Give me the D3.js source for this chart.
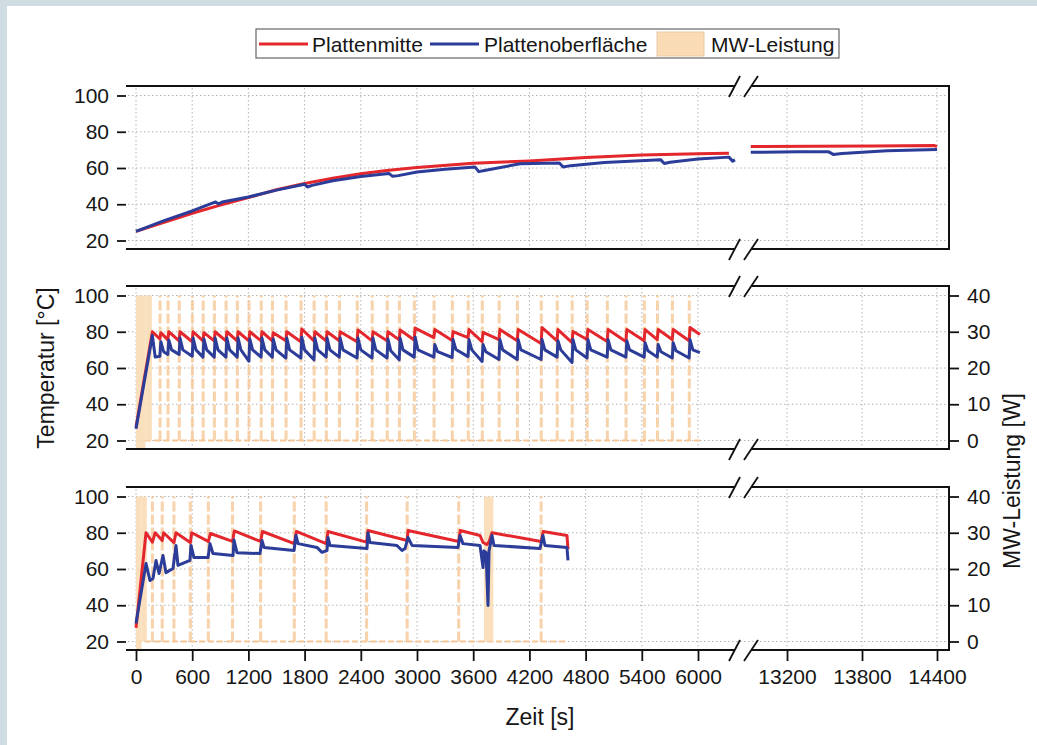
<!DOCTYPE html>
<html>
<head>
<meta charset="utf-8">
<script src="https://cdn.jsdelivr.net/npm/d3@7/dist/d3.min.js"></script>
<style>
body { margin: 0; background: #fff; }
text { font-family: "Liberation Sans", Arial, sans-serif; fill: #161616; }
</style>
</head>
<body>
<div id="chart"></div>
<script>
// ---- data ----
var tempTicks = [20, 40, 60, 80, 100];
var powerTicks = [0, 10, 20, 30, 40];
var timeTicksL = [0, 600, 1200, 1800, 2400, 3000, 3600, 4200, 4800, 5400, 6000];
var timeTicksR = [13200, 13800, 14400];

// panel 1: continuous run
var p1RedL = [[0,25],[300,30],[600,35],[900,39.5],[1200,43.7],[1500,48],[1800,51.5],[2100,54.3],[2400,56.8],
  [2700,58.8],[3000,60.3],[3600,62.6],[4200,63.9],[4800,65.8],[5400,67.2],[6000,67.9],[6330,68.2]];
var p1RedR = [[12910,71.9],[13400,72],[13900,72.2],[14380,72.4],[14400,71.8]];
var p1BlueL = [[0,25],[300,31],[600,36.3],[850,41.3],[880,40.2],[920,41.2],[1200,44],[1500,47.8],[1800,51],
  [1830,49.5],[1880,50.4],[2100,53],[2400,55.3],[2700,57],[2740,55.4],[2800,55.8],[3000,57.8],[3300,59.3],
  [3620,60.5],[3660,58],[3720,58.6],[4100,62.3],[4520,62.8],[4560,60.6],[4640,61.3],[5000,63],[5600,64.6],
  [5640,62.5],[5700,63.2],[6000,65],[6330,66],[6370,63.8],[6395,64.5]];
var p1BlueR = [[12910,68.7],[13300,68.9],[13530,69],[13570,67.5],[13640,68],[14000,69.5],[14400,70.2]];

// panel 2: regular pulses, one entry per heating cycle
var p2Peak = [175,265,350,470,610,725,845,970,1090,1215,1345,1465,1610,1770,1910,2040,2180,2370,2530,2690,
  2820,2980,3190,3385,3555,3705,3885,4080,4335,4505,4665,4825,5040,5240,5435,5575,5735,5915];
var p2End = 6020;
var p2RedHi = [80,79.5,80,80,80,79.5,80,80,80,80,80,79.5,80,81.5,80,80,80,81,80,80,81,82,
  81.2,80.1,81.2,79.6,81.2,81.2,82.3,81.2,80.1,81.2,81.2,81.2,81.2,81.2,81.2,82.3];
var p2RedLo = [76,75.5,75,74.5,75,75,75,75,75,75,75,75,74.5,75,75,75,74.5,75,75,75.5,75.5,
  76.8,75.2,76.8,74.6,75.7,75,73.5,75,74,75.7,74.6,74.6,75,75.7,75.7,75,78.5];
var p2BlueHi = [78,74.5,75.5,76.5,76.5,76,76.5,76.5,76.5,76,76.5,76,76.5,77,76.5,76.5,76.5,76.5,76.5,76,76.5,77,
  73,75.7,75.7,73,75.7,75.7,75.7,75,75.7,75.7,75.7,75,74,73,74,75.7];
var p2BlueMid = [66,69,70,70,70,70,70,70,70,70,70,70,70,70,70,70,70,70,70,69.5,70,70,
  69,70.2,70,69,70,70,70,70,70,70,70,70,69.5,69,69.5,70];
var p2BlueLo = [66.5,67.5,67.5,66.5,66,66,66,66,63.8,66,66,65.5,65.5,64.5,66,66,65.5,65.5,65.5,64.5,66,66,
  65.8,66.3,63.6,64.7,64.7,64.7,66,63,65.5,66,66,66,66,65.5,65.5,68.5];
var p2Start = [27.5, 26.5];
var p2Blocks = [[0,100,-2.4],[100,170,0]];

// panel 3: pulses only when needed
var p3Red = [[0,27.5],[107,80],[175,74.8],[205,80],[280,75.7],[295,80],[405,74.6],[427,80],[580,74.6],[595,80],
  [772,75.2],[795,79.6],[1030,75.2],[1050,81],[1330,75.2],[1350,80.7],[1690,74],[1712,80.7],[2030,74],[2050,80.7],
  [2462,74.8],[2477,81.2],[2895,75.7],[2904,81.2],[3445,75.2],[3462,81.2],[3673,78.5],[3705,74.6],[3745,73.5],
  [3770,75],[3801,80],[4325,75.2],[4348,80.7],[4601,78.5],[4612,71]];
var p3Blue = [[0,30],[107,63],[149,53.7],[181,54.8],[214,64.7],[246,57.5],[288,67.4],[320,58],[395,60.3],[427,73],
  [448,62],[576,64.7],[587,73],[619,66.3],[769,66.3],[790,74],[822,68.5],[1036,67.4],[1046,76],[1078,69],
  [1324,68.5],[1345,75.7],[1367,71.9],[1687,70.2],[1708,78.5],[1730,74],[1932,71.9],[1986,69.2],[2039,70.2],
  [2050,77.4],[2071,73],[2466,71.3],[2477,80],[2498,74.6],[2786,73],[2840,70.2],[2872,71.3],[2904,77.4],[2947,73],
  [3438,71.9],[3459,78.5],[3491,74],[3673,73],[3705,60.8],[3715,70],[3737,69],[3758,39.9],[3769,70],[3801,78.5],
  [3822,73],[4313,71.3],[4345,78.5],[4366,73],[4601,71.9],[4612,64.7]];
var p3Pulse = [175,280,405,580,772,1030,1330,1690,2030,2462,2895,3445,4325];
var p3Blocks = [[0,60,-2.4],[60,115,0],[3715,3815,0]];
var p3End = 4612;

var colRed = "#e3272c", colBlue = "#2b3c99", colPower = "#f6c795", colSwatch = "#f9dbb6";

// ---- layout ----
var width = 1037, height = 745;
var frameL = 126, frameR = 949, gapA = 735, gapB = 751;
var panelTops = [86, 286, 487], panelH = 163;

var svg = d3.select("#chart").append("svg")
    .attr("width", width)
    .attr("height", height);

svg.append("rect").attr("x", 0).attr("y", 0).attr("width", width).attr("height", 6).attr("fill", "#cfdce1");
svg.append("rect").attr("x", 0).attr("y", 0).attr("width", 7).attr("height", height).attr("fill", "#cfdce1");

var xLeft = d3.scaleLinear().domain([0, 6000]).range([136, 698]);
var xRight = d3.scaleLinear().domain([13200, 14400]).range([787, 937]);
function xPos(t) { return t < 10000 ? xLeft(t) : xRight(t); }

// build the cycle series of panel 2
var p2Red = [[0, p2Start[0]]], p2Blue = [[0, p2Start[1]]];
p2Peak.forEach(function(t, i) {
  var next = i < p2Peak.length - 1 ? p2Peak[i + 1] - 10 : p2End;
  p2Red.push([t, p2RedHi[i]], [next, p2RedLo[i]]);
  p2Blue.push([t, p2BlueHi[i]], [t + 30, p2BlueMid[i]], [next, p2BlueLo[i]]);
});
var p2Pulse = p2Peak.slice(1).map(function(t) { return t - 8; });

function drawPanel(idx, cfg) {
  var top = panelTops[idx], bottom = top + panelH;
  var y = d3.scaleLinear().domain([20, 100]).range([top + 154.5, top + 9.5]);
  var yW = d3.scaleLinear().domain([0, 40]).range([top + 154.5, top + 9.5]);
  var g = svg.append("g");

  /* grid */
  g.selectAll("line.hg").data(tempTicks).enter().append("line")
    .attr("class", "hg")
    .attr("x1", frameL + 2).attr("x2", frameR - 2)
    .attr("y1", function(d) { return y(d); }).attr("y2", function(d) { return y(d); });
  g.selectAll("line.vg").data(timeTicksL.concat(timeTicksR)).enter().append("line")
    .attr("class", "vg")
    .attr("x1", xPos).attr("x2", xPos)
    .attr("y1", top + 2).attr("y2", bottom - 2);
  g.selectAll("line.hg, line.vg")
    .attr("stroke", "#b4b4b4").attr("stroke-width", 1).attr("stroke-dasharray", "1.5,2.5");

  /* MW power */
  if (cfg.pulses) {
    g.append("line")
      .attr("x1", xPos(0)).attr("x2", xPos(cfg.end))
      .attr("y1", yW(0)).attr("y2", yW(0))
      .attr("stroke", colPower).attr("stroke-width", 2).attr("stroke-dasharray", "6,3");
    g.selectAll("rect.blk").data(cfg.blocks).enter().append("rect")
      .attr("class", "blk")
      .attr("x", function(d) { return xPos(d[0]); })
      .attr("width", function(d) { return xPos(d[1]) - xPos(d[0]); })
      .attr("y", yW(40))
      .attr("height", function(d) { return yW(d[2]) - yW(40); })
      .attr("fill", colSwatch).attr("opacity", 0.9);
    g.selectAll("line.pulse").data(cfg.pulses).enter().append("line")
      .attr("class", "pulse")
      .attr("x1", xPos).attr("x2", xPos)
      .attr("y1", yW(0)).attr("y2", yW(40))
      .attr("stroke", colPower).attr("stroke-width", 3)
      .attr("stroke-dasharray", "10,3").attr("opacity", 0.8);
  }

  /* temperature lines */
  var line = d3.line()
    .x(function(d) { return xPos(d[0]); })
    .y(function(d) { return y(d[1]); });
  cfg.series.forEach(function(s) {
    g.append("path").datum(s.data)
      .attr("d", line)
      .attr("fill", "none")
      .attr("stroke", s.color)
      .attr("stroke-width", 3)
      .attr("stroke-linejoin", "round");
  });

  /* frame with axis break */
  g.append("path")
    .attr("d", "M" + frameL + "," + top + "H" + gapA + "M" + gapB + "," + top + "H" + frameR +
               "V" + bottom + "H" + gapB + "M" + gapA + "," + bottom + "H" + frameL + "Z")
    .attr("fill", "none").attr("stroke", "#111").attr("stroke-width", 2);
  [top, bottom].forEach(function(yy) {
    [[729, 740], [744, 758]].forEach(function(s) {
      g.append("line")
        .attr("x1", s[0]).attr("y1", yy + 11).attr("x2", s[1]).attr("y2", yy - 10)
        .attr("stroke", "#111").attr("stroke-width", 1.8);
    });
  });

  /* axes */
  var ax = g.append("g")
    .attr("transform", "translate(" + frameL + ",0)")
    .call(d3.axisLeft(y).tickValues(tempTicks).tickSize(9).tickPadding(8));
  styleAxis(ax);

  if (cfg.rightAxis) {
    var ar = g.append("g")
      .attr("transform", "translate(" + frameR + ",0)")
      .call(d3.axisRight(yW).tickValues(powerTicks).tickSize(10).tickPadding(8));
    styleAxis(ar);
  }
  if (cfg.bottomAxis) {
    [[xLeft, timeTicksL], [xRight, timeTicksR]].forEach(function(p) {
      var ab = g.append("g")
        .attr("transform", "translate(0," + bottom + ")")
        .call(d3.axisBottom(p[0]).tickValues(p[1]).tickSize(11).tickPadding(8).tickFormat(d3.format("d")));
      styleAxis(ab);
    });
  }
}

function styleAxis(a) {
  a.select(".domain").remove();
  a.selectAll(".tick line").attr("stroke", "#111").attr("stroke-width", 1.8);
  a.selectAll(".tick text").attr("font-size", 21).attr("fill", "#161616")
    .style("font-family", "'Liberation Sans', Arial, sans-serif");
}

drawPanel(0, {
  series: [{data: p1RedL, color: colRed}, {data: p1RedR, color: colRed},
           {data: p1BlueL, color: colBlue}, {data: p1BlueR, color: colBlue}]
});
drawPanel(1, {
  series: [{data: p2Red, color: colRed}, {data: p2Blue, color: colBlue}],
  pulses: p2Pulse, blocks: p2Blocks, end: p2End, rightAxis: true
});
drawPanel(2, {
  series: [{data: p3Red, color: colRed}, {data: p3Blue, color: colBlue}],
  pulses: p3Pulse, blocks: p3Blocks, end: p3End, rightAxis: true, bottomAxis: true
});

/* axis titles */
svg.append("text")
  .attr("transform", "translate(54,368) rotate(-90)")
  .attr("text-anchor", "middle").attr("font-size", 23)
  .text("Temperatur [°C]");
svg.append("text")
  .attr("transform", "translate(1020,481) rotate(-90)")
  .attr("text-anchor", "middle").attr("font-size", 23)
  .text("MW-Leistung [W]");
svg.append("text")
  .attr("x", 540).attr("y", 725)
  .attr("text-anchor", "middle").attr("font-size", 23)
  .text("Zeit [s]");

/* legend */
var lg = svg.append("g");
lg.append("rect")
  .attr("x", 256).attr("y", 29).attr("width", 583).attr("height", 29)
  .attr("fill", "#fff").attr("stroke", "#666").attr("stroke-width", 1.2);
var legendItems = [
  {label: "Plattenmitte", color: colRed, x: 259, tx: 312},
  {label: "Plattenoberfläche", color: colBlue, x: 430, tx: 484},
  {label: "MW-Leistung", color: colSwatch, x: 657, tx: 711, box: true}
];
legendItems.forEach(function(d) {
  if (d.box) {
    lg.append("rect").attr("x", d.x).attr("y", 32).attr("width", 47).attr("height", 24)
      .attr("fill", d.color).attr("stroke", "#e9c9a3").attr("stroke-width", 1);
  } else {
    lg.append("line").attr("x1", d.x).attr("x2", d.x + 49).attr("y1", 44).attr("y2", 44)
      .attr("stroke", d.color).attr("stroke-width", 3);
  }
  lg.append("text").attr("x", d.tx).attr("y", 51.5).attr("font-size", 21).text(d.label);
});
</script>
</body>
</html>
